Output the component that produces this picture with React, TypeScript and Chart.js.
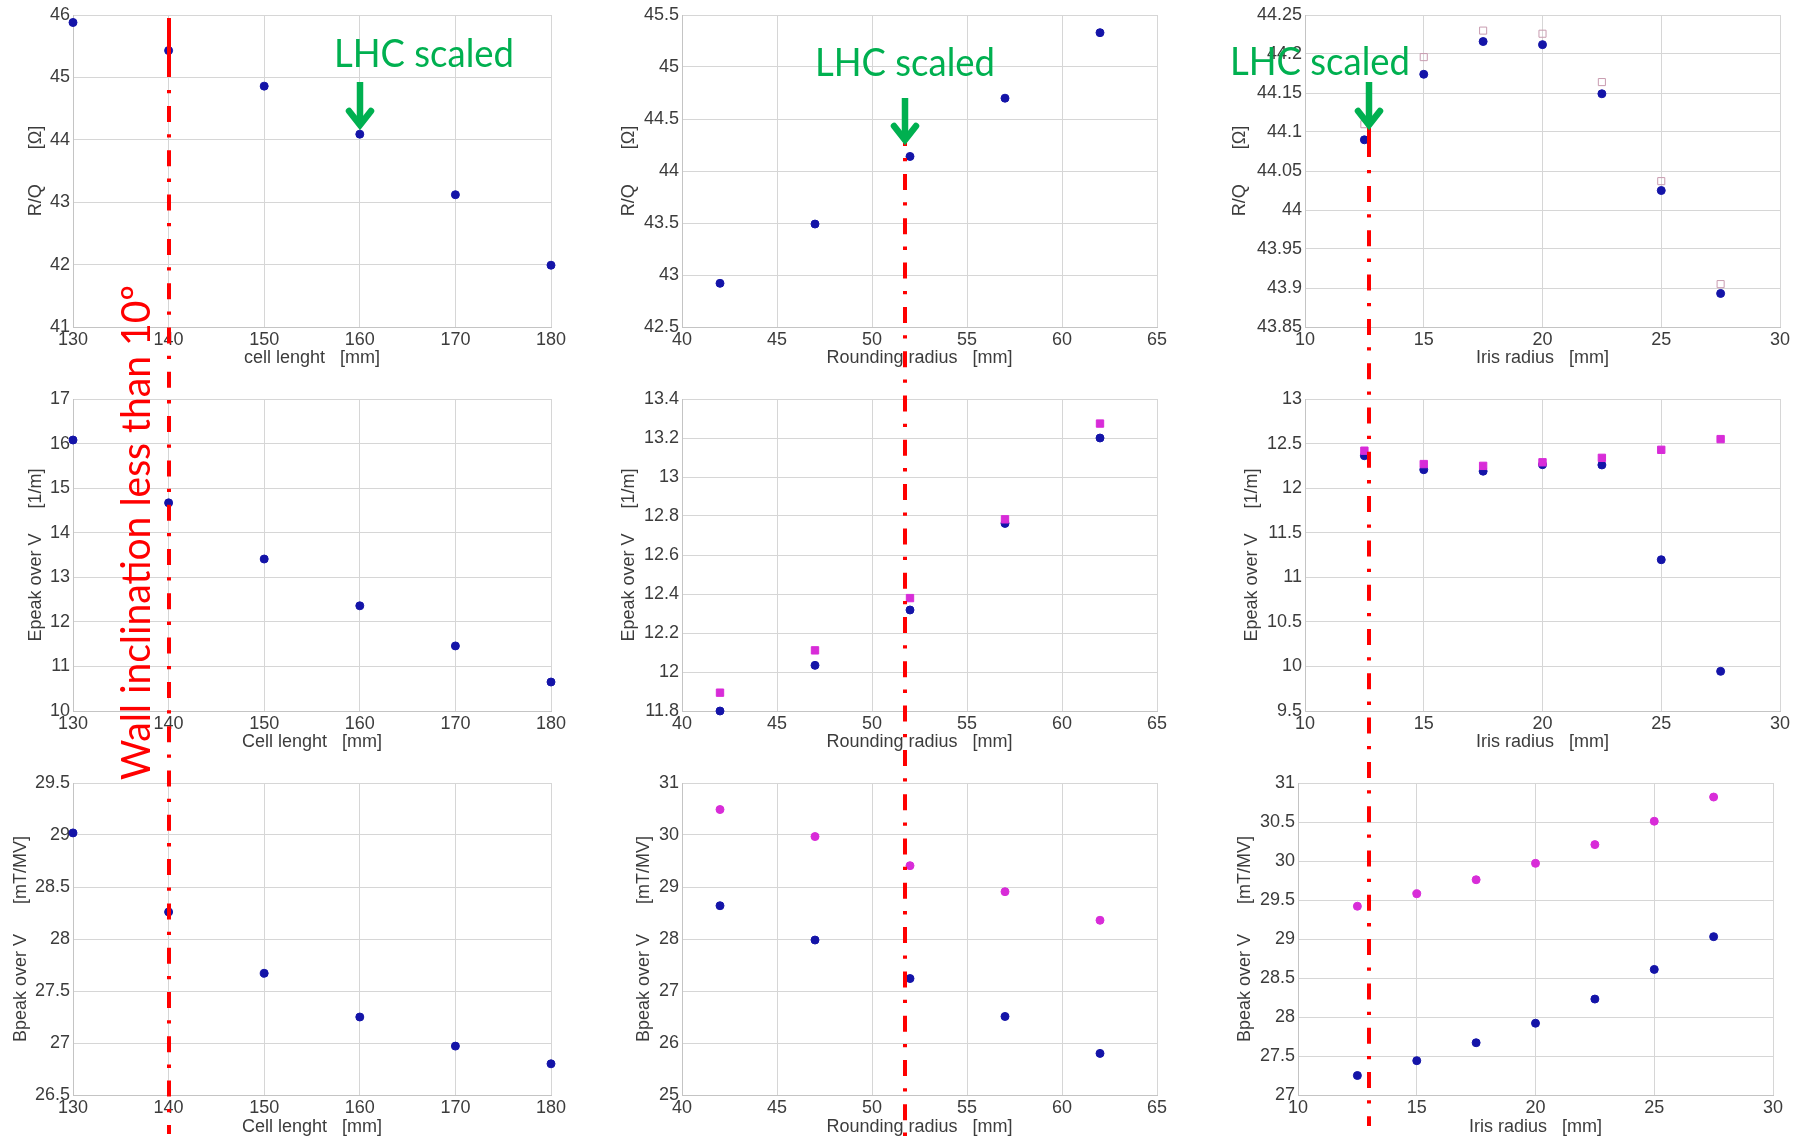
import React, { useEffect, useRef } from 'react';
import { Chart, registerables } from 'chart.js';

Chart.register(...registerables);

// ---------------- data ----------------
const cellLength = [130, 140, 150, 160, 170, 180];
const roundingRadius = [42, 47, 52, 57, 62];
const irisRadius = [12.5, 15, 17.5, 20, 22.5, 25, 27.5];

const rqVsCell = [45.88, 45.43, 44.86, 44.09, 43.12, 41.99];
const rqVsRound = [42.92, 43.49, 44.14, 44.7, 45.33];
const rqVsIris = [44.09, 44.174, 44.216, 44.212, 44.149, 44.025, 43.893];
const rqVsIrisB = [44.11, 44.196, 44.23, 44.226, 44.164, 44.037, 43.905];

const epVsCell = [16.08, 14.67, 13.41, 12.36, 11.46, 10.65];
const epVsRound = [11.8, 12.034, 12.318, 12.762, 13.2];
const epVsRoundB = [11.894, 12.111, 12.379, 12.783, 13.274];
const epVsIris = [12.364, 12.207, 12.19, 12.263, 12.26, 11.197, 9.945];
const epVsIrisB = [12.42, 12.27, 12.25, 12.29, 12.34, 12.43, 12.55];

const bpVsCell = [29.02, 28.26, 27.67, 27.25, 26.97, 26.8];
const bpVsRound = [28.64, 27.98, 27.24, 26.51, 25.8];
const bpVsRoundB = [30.49, 29.97, 29.41, 28.91, 28.36];
const bpVsIris = [27.25, 27.44, 27.67, 27.92, 28.23, 28.61, 29.03];
const bpVsIrisB = [29.42, 29.58, 29.76, 29.97, 30.21, 30.51, 30.82];

// ---------------- tick labels ----------------
const cellTicks = [130, 140, 150, 160, 170, 180];
const roundTicks = [40, 45, 50, 55, 60, 65];
const irisTicks = [10, 15, 20, 25, 30];
const rqCellTicks = [41, 42, 43, 44, 45, 46];
const rqRoundTicks = [42.5, 43, 43.5, 44, 44.5, 45, 45.5];
const rqIrisTicks = [43.85, 43.9, 43.95, 44, 44.05, 44.1, 44.15, 44.2, 44.25];
const epCellTicks = [10, 11, 12, 13, 14, 15, 16, 17];
const epRoundTicks = [11.8, 12, 12.2, 12.4, 12.6, 12.8, 13, 13.2, 13.4];
const epIrisTicks = [9.5, 10, 10.5, 11, 11.5, 12, 12.5, 13];
const bpCellTicks = [26.5, 27, 27.5, 28, 28.5, 29, 29.5];
const bpRoundTicks = [25, 26, 27, 28, 29, 30, 31];
const bpIrisTicks = [27, 27.5, 28, 28.5, 29, 29.5, 30, 30.5, 31];

// ---------------- texts ----------------
const xTitleCellLower = 'cell lenght   [mm]';
const xTitleCell = 'Cell lenght   [mm]';
const xTitleRound = 'Rounding radius   [mm]';
const xTitleIris = 'Iris radius   [mm]';
const yTitleRQ = 'R/Q       [Ω]';
const yTitleEp = 'Epeak over V     [1/m]';
const yTitleBp = 'Bpeak over V      [mT/MV]';
const annotationLHC = 'LHC scaled';
const annotationWall = 'Wall inclination less than 10º';

// ---------------- styles ----------------
const BLUE = '#1414a8';
const MAGENTA = '#d82cd8';
const OPEN_SQ = '#c89cb0';
const GRID = '#d6d6d6';
const BORDER = '#c4c4c4';
const TEXT = '#3c3c3c';
const FONT = "'Liberation Sans', Arial, sans-serif";
const RED = '#ff0000';
const GREEN = '#00b050';

type Kind = 'blue' | 'mag' | 'magDot' | 'open';
type Series = { y: number[]; kind: Kind };
type PanelSpec = {
  x: number[];
  xTicks: number[];
  yTicks: number[];
  xTitle: string;
  yTitle: string;
  series: Series[];
};

const panels: PanelSpec[] = [
  { x: cellLength, xTicks: cellTicks, yTicks: rqCellTicks, xTitle: xTitleCellLower, yTitle: yTitleRQ, series: [{ y: rqVsCell, kind: 'blue' }] },
  { x: roundingRadius, xTicks: roundTicks, yTicks: rqRoundTicks, xTitle: xTitleRound, yTitle: yTitleRQ, series: [{ y: rqVsRound, kind: 'blue' }] },
  { x: irisRadius, xTicks: irisTicks, yTicks: rqIrisTicks, xTitle: xTitleIris, yTitle: yTitleRQ, series: [{ y: rqVsIris, kind: 'blue' }, { y: rqVsIrisB, kind: 'open' }] },
  { x: cellLength, xTicks: cellTicks, yTicks: epCellTicks, xTitle: xTitleCell, yTitle: yTitleEp, series: [{ y: epVsCell, kind: 'blue' }] },
  { x: roundingRadius, xTicks: roundTicks, yTicks: epRoundTicks, xTitle: xTitleRound, yTitle: yTitleEp, series: [{ y: epVsRoundB, kind: 'mag' }, { y: epVsRound, kind: 'blue' }] },
  { x: irisRadius, xTicks: irisTicks, yTicks: epIrisTicks, xTitle: xTitleIris, yTitle: yTitleEp, series: [{ y: epVsIrisB, kind: 'mag' }, { y: epVsIris, kind: 'blue' }] },
  { x: cellLength, xTicks: cellTicks, yTicks: bpCellTicks, xTitle: xTitleCell, yTitle: yTitleBp, series: [{ y: bpVsCell, kind: 'blue' }] },
  { x: roundingRadius, xTicks: roundTicks, yTicks: bpRoundTicks, xTitle: xTitleRound, yTitle: yTitleBp, series: [{ y: bpVsRoundB, kind: 'magDot' }, { y: bpVsRound, kind: 'blue' }] },
  { x: irisRadius, xTicks: irisTicks, yTicks: bpIrisTicks, xTitle: xTitleIris, yTitle: yTitleBp, series: [{ y: bpVsIrisB, kind: 'magDot' }, { y: bpVsIris, kind: 'blue' }] },
];

// plot-area rectangles [left, top, right, bottom] in page pixels
const plotRects: number[][] = [
  [73, 15, 551, 327], [682, 15, 1157, 327], [1305, 15, 1780, 327],
  [73, 399, 551, 711], [682, 399, 1157, 711], [1305, 399, 1780, 711],
  [73, 783, 551, 1095], [682, 783, 1157, 1095], [1298, 783, 1773, 1095],
];
const yAxisWidths = [48, 64, 76, 48, 64, 64, 63, 49, 64];
const xAxisHeights = [42, 42, 42, 42, 42, 42, 43, 43, 43];
const PAD_TOP = 14;
const PAD_RIGHT = 20;

function seriesStyle(kind: Kind) {
  switch (kind) {
    case 'blue':
      return { pointStyle: 'circle', pointRadius: 4, pointBackgroundColor: BLUE, pointBorderColor: BLUE, pointBorderWidth: 1 };
    case 'mag':
      return { pointStyle: 'rect', pointRadius: 5.2, pointBackgroundColor: MAGENTA, pointBorderColor: MAGENTA, pointBorderWidth: 1 };
    case 'magDot':
      return { pointStyle: 'circle', pointRadius: 4, pointBackgroundColor: MAGENTA, pointBorderColor: MAGENTA, pointBorderWidth: 1 };
    case 'open':
    default:
      return { pointStyle: 'rect', pointRadius: 5, pointBackgroundColor: 'rgba(0,0,0,0)', pointBorderColor: OPEN_SQ, pointBorderWidth: 1 };
  }
}

function Panel({ spec, rect, yw, xh }: { spec: PanelSpec; rect: number[]; yw: number; xh: number }) {
  const ref = useRef<HTMLCanvasElement>(null);
  const [L, T, R, B] = rect;
  const width = R - L + yw + PAD_RIGHT;
  const height = B - T + PAD_TOP + xh;

  useEffect(() => {
    if (!ref.current) return;
    const xMin = spec.xTicks[0];
    const xMax = spec.xTicks[spec.xTicks.length - 1];
    const yMin = spec.yTicks[0];
    const yMax = spec.yTicks[spec.yTicks.length - 1];
    const tickFont = { family: FONT, size: 18 };
    const chart = new Chart(ref.current, {
      type: 'scatter',
      data: {
        datasets: spec.series.map((s) => ({
          data: spec.x.map((x, i) => ({ x, y: s.y[i] })),
          showLine: false,
          clip: false,
          ...seriesStyle(s.kind),
        })) as any,
      },
      options: {
        responsive: false,
        animation: false,
        devicePixelRatio: 1,
        layout: { padding: { top: PAD_TOP, right: PAD_RIGHT, left: 0, bottom: 0 } },
        plugins: { legend: { display: false }, tooltip: { enabled: false } },
        events: [],
        scales: {
          x: {
            type: 'linear',
            min: xMin,
            max: xMax,
            afterBuildTicks: (s: any) => { s.ticks = spec.xTicks.map((v) => ({ value: v })); },
            afterFit: (s: any) => { s.height = xh; },
            ticks: { autoSkip: false, maxRotation: 0, padding: 2, color: TEXT, font: tickFont, callback: (v: any) => String(v) },
            grid: { color: GRID, drawTicks: false, lineWidth: 1 },
            border: { color: BORDER, width: 1 },
            title: { display: true, text: spec.xTitle, color: TEXT, font: tickFont, padding: 0 },
          },
          y: {
            type: 'linear',
            min: yMin,
            max: yMax,
            afterBuildTicks: (s: any) => { s.ticks = spec.yTicks.map((v) => ({ value: v })); },
            afterFit: (s: any) => { s.width = yw; },
            ticks: { autoSkip: false, padding: 3, color: TEXT, font: tickFont, callback: (v: any) => String(v) },
            grid: { color: GRID, drawTicks: false, lineWidth: 1 },
            border: { color: BORDER, width: 1 },
            title: { display: true, text: spec.yTitle, color: TEXT, font: tickFont, padding: 0 },
          },
        },
      } as any,
    });
    return () => chart.destroy();
  }, []);

  return (
    <canvas
      ref={ref}
      width={width}
      height={height}
      style={{ position: 'absolute', left: L - yw, top: T - PAD_TOP, width, height }}
    />
  );
}

function Arrow({ x, top, tip }: { x: number; top: number; tip: number }) {
  return (
    <g stroke={GREEN} strokeWidth={6.5} fill="none">
      <line x1={x} y1={top} x2={x} y2={tip - 4} />
      <polyline points={`${x - 11},${tip - 17} ${x},${tip - 3} ${x + 11},${tip - 17}`} strokeLinejoin="miter" strokeLinecap="round" />
    </g>
  );
}

function Overlay() {
  const dash = '3.3 12.7 16 12.3';
  return (
    <svg width={1804} height={1138} style={{ position: 'absolute', left: 0, top: 0, pointerEvents: 'none' }}>
      {/* red dash-dot lines */}
      <line x1={169} y1={18} x2={169} y2={77} stroke={RED} strokeWidth={4} />
      <line x1={169} y1={90} x2={169} y2={1134} stroke={RED} strokeWidth={4} strokeDasharray={dash} />
      <line x1={905} y1={143} x2={905} y2={146} stroke={RED} strokeWidth={4} />
      <line x1={905} y1={158} x2={905} y2={1138} stroke={RED} strokeWidth={4} strokeDasharray={dash} />
      <line x1={1369} y1={128} x2={1369} y2={157} stroke={RED} strokeWidth={4} />
      <line x1={1369} y1={170} x2={1369} y2={1126} stroke={RED} strokeWidth={4} strokeDasharray={dash} />

      {/* rotated red text */}
      <text
        transform="translate(150,780) rotate(-90)"
        x={0}
        y={0}
        fill={RED}
        fontFamily="Lato, 'Open Sans', sans-serif"
        fontSize={40}
        textLength={495}
        lengthAdjust="spacingAndGlyphs"
      >
        {annotationWall}
      </text>

      {/* green annotations */}
      <text x={334} y={67} fill={GREEN} fontFamily="Lato, 'Open Sans', sans-serif" fontSize={38} textLength={180} lengthAdjust="spacingAndGlyphs">{annotationLHC}</text>
      <text x={815} y={76} fill={GREEN} fontFamily="Lato, 'Open Sans', sans-serif" fontSize={38} textLength={180} lengthAdjust="spacingAndGlyphs">{annotationLHC}</text>
      <text x={1230} y={75} fill={GREEN} fontFamily="Lato, 'Open Sans', sans-serif" fontSize={38} textLength={180} lengthAdjust="spacingAndGlyphs">{annotationLHC}</text>
      <Arrow x={360} top={82} tip={128} />
      <Arrow x={905} top={98} tip={143} />
      <Arrow x={1369} top={82} tip={128} />
    </svg>
  );
}

export default function App() {
  return (
    <div style={{ position: 'absolute', left: 0, top: 0, width: 1804, height: 1138, background: '#ffffff', overflow: 'hidden' }}>
      {panels.map((p, i) => (
        <Panel key={i} spec={p} rect={plotRects[i]} yw={yAxisWidths[i]} xh={xAxisHeights[i]} />
      ))}
      <Overlay />
    </div>
  );
}
